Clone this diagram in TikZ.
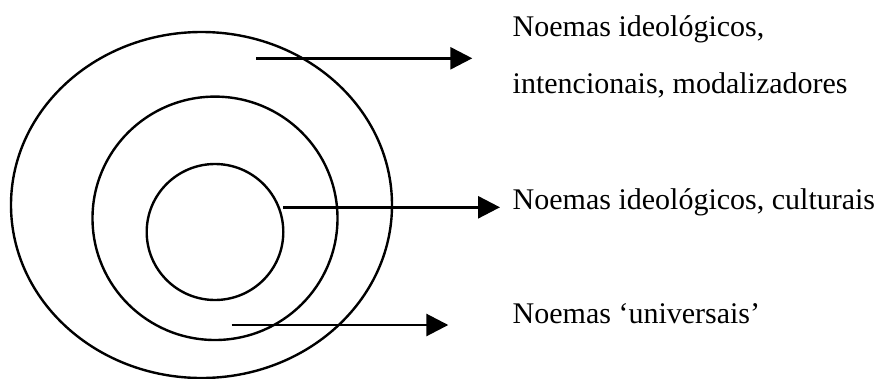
\documentclass[tikz,border=0pt]{standalone}
\usepackage{fontspec}
\setmainfont{Liberation Serif}
\usetikzlibrary{arrows.meta}
\tikzset{
  ring/.style={line width=2.4pt, draw=black},
  pointer/.style={line width=2.8pt, -{Triangle[length=22pt,width=22pt]}},
  label/.style={anchor=base west, inner sep=0pt, font=\fontsize{30}{36}\selectfont}
}
\begin{document}
\begin{tikzpicture}[x=1pt,y=-1pt]
\useasboundingbox (0,0) rectangle (878,378);
\draw[ring] (201.5,205) ellipse [x radius=190.5, y radius=173];
\draw[ring] (215,218.3) ellipse [x radius=122.5, y radius=121.7];
\draw[ring] (215,232) ellipse [x radius=68.3, y radius=68];
\coordinate (s1) at (256,58.3);
\coordinate (e1) at (472.3,58.3);
\coordinate (s2) at (283,207.3);
\coordinate (e2) at (500,207.3);
\coordinate (s3) at (231.7,325);
\coordinate (e3) at (448.3,325);
\draw[pointer] (s1) -- (e1);
\draw[pointer] (s2) -- (e2);
\draw[pointer] (s3) -- (e3);
\node[label] (t1) at (512.5,36.7) {Noemas ideológicos,};
\node[label] (t2) at (512.5,93) {intencionais, modalizadores};
\node[label] (t3) at (512.5,209.3) {Noemas ideológicos, culturais};
\node[label] (t4) at (512.5,323.3) {Noemas ‘universais’};
\end{tikzpicture}
\end{document}
